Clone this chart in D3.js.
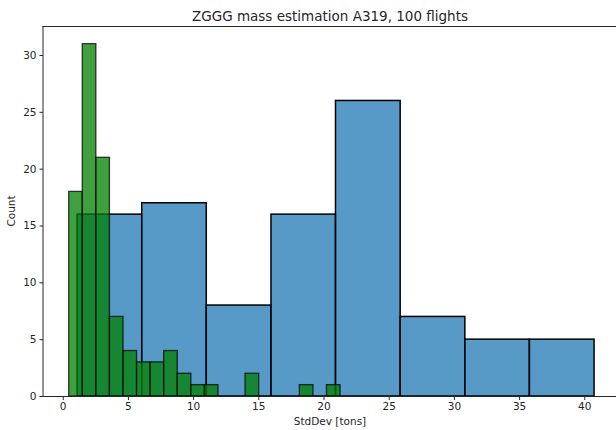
<!DOCTYPE html>
<html><head><meta charset="utf-8">
<script src="https://cdn.jsdelivr.net/npm/d3@7"></script>
<style>body{margin:0;background:#fff}svg{display:block}text{font-family:"DejaVu Sans",sans-serif;fill:#262626}</style>
</head><body><svg id="c" width="616" height="430"></svg>
<script>
// Blue histogram (all estimates): 8 bins
const blueEdges = [1.10, 6.06, 11.01, 15.97, 20.92, 25.88, 30.84, 35.79, 40.75];
const blueCounts = [16, 17, 8, 16, 26, 7, 5, 5];
// Green histogram: 20 bins
const greenStart = 0.46, greenEnd = 21.27;
const greenCounts = [18, 31, 21, 7, 4, 3, 3, 4, 2, 1, 1, 0, 0, 2, 0, 0, 0, 1, 0, 1];
const xTicks = [0, 5, 10, 15, 20, 25, 30, 35, 40];
const yTicks = [0, 5, 10, 15, 20, 25, 30];
const title = "ZGGG mass estimation A319, 100 flights";
const xLabel = "StdDev [tons]";
const yLabel = "Count";

const svg = d3.select("#c");
const x = d3.scaleLinear().domain([-1.55, 42.77]).range([42.5, 620.4]);
const y = d3.scaleLinear().domain([0, 32.55]).range([396, 26]);

const blueBins = blueCounts.map((c, i) => ({x0: blueEdges[i], x1: blueEdges[i + 1], c}));
const gw = (greenEnd - greenStart) / greenCounts.length;
const greenBins = greenCounts.map((c, i) => ({x0: greenStart + i * gw, x1: greenStart + (i + 1) * gw, c})).filter(d => d.c > 0);

const plot = svg.append("g");
plot.selectAll("rect.b").data(blueBins).join("rect")
  .attr("x", d => x(d.x0)).attr("width", d => x(d.x1) - x(d.x0))
  .attr("y", d => y(d.c)).attr("height", d => y(0) - y(d.c))
  .attr("fill", "#1f77b4").attr("fill-opacity", 0.75)
  .attr("stroke", "#000").attr("stroke-width", 1.5);
plot.selectAll("rect.g").data(greenBins).join("rect")
  .attr("x", d => x(d.x0)).attr("width", d => x(d.x1) - x(d.x0))
  .attr("y", d => y(d.c)).attr("height", d => y(0) - y(d.c))
  .attr("fill", "#008000").attr("fill-opacity", 0.75)
  .attr("stroke", "#000").attr("stroke-opacity", 0.75).attr("stroke-width", 1.3);

// spines
const frame = svg.append("g").attr("stroke", "#262626").attr("stroke-width", 1).attr("fill", "none");
frame.append("line").attr("x1", x.range()[0]).attr("x2", x.range()[1]).attr("y1", 26.5).attr("y2", 26.5);
frame.append("line").attr("x1", x.range()[0]).attr("x2", x.range()[1]).attr("y1", 396.5).attr("y2", 396.5);
frame.append("line").attr("x1", 43).attr("x2", 43).attr("y1", 26).attr("y2", 397);

const xa = svg.append("g").attr("transform", "translate(0,396.5)")
  .call(d3.axisBottom(x).tickValues(xTicks).tickSize(3.5).tickPadding(3).tickFormat(d3.format("d")));
const ya = svg.append("g").attr("transform", "translate(43,0)")
  .call(d3.axisLeft(y).tickValues(yTicks).tickSize(3.5).tickPadding(3).tickFormat(d3.format("d")));
[xa, ya].forEach(a => {
  a.select(".domain").remove();
  a.selectAll("line").attr("stroke", "#262626");
  a.selectAll("text").attr("font-size", 10.5).attr("fill", "#262626").attr("font-family", "DejaVu Sans");
});

svg.append("text").attr("x", 330).attr("y", 20.5).attr("text-anchor", "middle").attr("font-size", 13.5).text(title);
svg.append("text").attr("x", 330).attr("y", 425).attr("text-anchor", "middle").attr("font-size", 10.5).text(xLabel);
svg.append("text").attr("transform", "translate(15,211) rotate(-90)").attr("text-anchor", "middle").attr("font-size", 10.5).text(yLabel);
</script></body></html>
